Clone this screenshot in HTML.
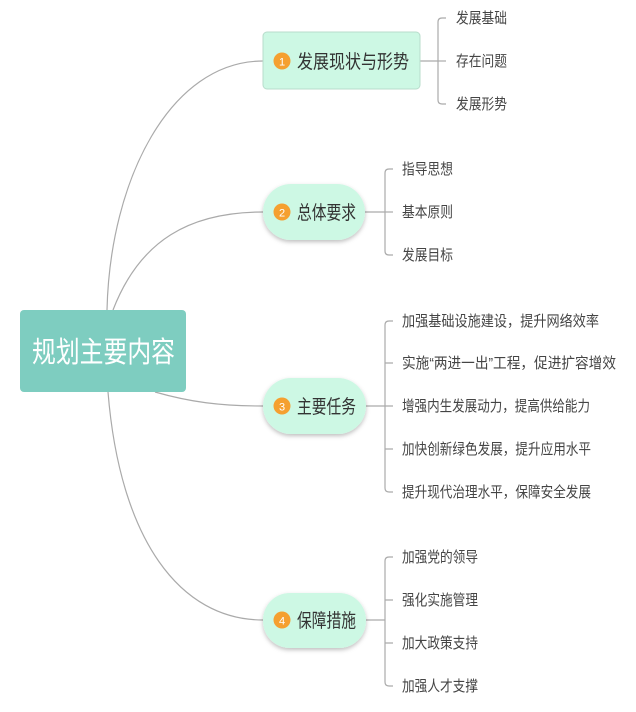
<!DOCTYPE html>
<html><head><meta charset="utf-8"><style>
html,body{margin:0;padding:0;background:#fff;}
svg{display:block;}
text{font-family:"Liberation Sans","Noto Sans CJK SC",sans-serif;}
</style></head><body>
<svg width="636" height="712" viewBox="0 0 636 712" xmlns="http://www.w3.org/2000/svg">
<defs>
<filter id="sh" x="-20%" y="-20%" width="140%" height="150%"><feDropShadow dx="0" dy="2" stdDeviation="2" flood-color="#000" flood-opacity="0.25"/></filter>
</defs>
<g fill="none" stroke="#aaa" stroke-width="1.2">
<path d="M107,310 C110,180 170,61 263,61"/>
<path d="M113,310 C140,240 190,212 263,212"/>
<path d="M155,392 C190,402 220,406 263,406"/>
<path d="M108,392 C120,540 180,620 263,620"/>
<path d="M420,61 H438"/>
<path d="M446,18 H442 Q438,18 438,22 V100 Q438,104 442,104 H446"/>
<path d="M438,61 H446"/>
<path d="M365,212 H385"/>
<path d="M393,169 H389 Q385,169 385,173 V251 Q385,255 389,255 H393"/>
<path d="M385,212 H393"/>
<path d="M366,406 H385"/>
<path d="M393,321 H389 Q385,321 385,325 V488 Q385,492 389,492 H393"/>
<path d="M385,363 H393 M385,406 H393 M385,449 H393"/>
<path d="M366,620 H385"/>
<path d="M393,557 H389 Q385,557 385,561 V682 Q385,686 389,686 H393"/>
<path d="M385,600 H393 M385,643 H393"/>
</g>
<rect x="20" y="310" width="166" height="82" rx="4" fill="#7ecdc0"/>
<text x="32" y="362" font-size="29" fill="#fff" textLength="143" lengthAdjust="spacingAndGlyphs">规划主要内容</text>

<rect x="263" y="32" width="157" height="57" rx="4" fill="#cdf8e4" stroke="#b8dccb" stroke-width="1"/>
<circle cx="282" cy="61" r="8.5" fill="#f5a030"/><text x="282" y="65.5" font-size="11" fill="#fff" text-anchor="middle">1</text>
<text x="297" y="68" font-size="19" fill="#333" textLength="112" lengthAdjust="spacingAndGlyphs">发展现状与形势</text>

<rect x="263" y="184" width="102" height="56" rx="28" fill="#cdf8e4" filter="url(#sh)"/>
<circle cx="282" cy="212" r="8.5" fill="#f5a030"/><text x="282" y="216.5" font-size="11" fill="#fff" text-anchor="middle">2</text>
<text x="297" y="219" font-size="19" fill="#333" textLength="59" lengthAdjust="spacingAndGlyphs">总体要求</text>

<rect x="263" y="378" width="103" height="56" rx="28" fill="#cdf8e4" filter="url(#sh)"/>
<circle cx="282" cy="406" r="8.5" fill="#f5a030"/><text x="282" y="410.5" font-size="11" fill="#fff" text-anchor="middle">3</text>
<text x="297" y="413" font-size="19" fill="#333" textLength="59" lengthAdjust="spacingAndGlyphs">主要任务</text>

<rect x="263" y="593" width="103" height="55" rx="27" fill="#cdf8e4" filter="url(#sh)"/>
<circle cx="282" cy="620" r="8.5" fill="#f5a030"/><text x="282" y="624.5" font-size="11" fill="#fff" text-anchor="middle">4</text>
<text x="297" y="627" font-size="19" fill="#333" textLength="59" lengthAdjust="spacingAndGlyphs">保障措施</text>

<g font-size="15" fill="#444" lengthAdjust="spacingAndGlyphs">
<text x="456" y="23" textLength="51" lengthAdjust="spacingAndGlyphs">发展基础</text>
<text x="456" y="66" textLength="51" lengthAdjust="spacingAndGlyphs">存在问题</text>
<text x="456" y="109" textLength="51" lengthAdjust="spacingAndGlyphs">发展形势</text>
<text x="402" y="174" textLength="51" lengthAdjust="spacingAndGlyphs">指导思想</text>
<text x="402" y="217" textLength="51" lengthAdjust="spacingAndGlyphs">基本原则</text>
<text x="402" y="260" textLength="51" lengthAdjust="spacingAndGlyphs">发展目标</text>
<text x="402" y="326" textLength="197" lengthAdjust="spacingAndGlyphs">加强基础设施建设，提升网络效率</text>
<text x="402" y="368" textLength="214" lengthAdjust="spacingAndGlyphs">实施“两进一出”工程，促进扩容增效</text>
<text x="402" y="411" textLength="188" lengthAdjust="spacingAndGlyphs">增强内生发展动力，提高供给能力</text>
<text x="402" y="454" textLength="189" lengthAdjust="spacingAndGlyphs">加快创新绿色发展，提升应用水平</text>
<text x="402" y="497" textLength="189" lengthAdjust="spacingAndGlyphs">提升现代治理水平，保障安全发展</text>
<text x="402" y="562" textLength="76" lengthAdjust="spacingAndGlyphs">加强党的领导</text>
<text x="402" y="605" textLength="76" lengthAdjust="spacingAndGlyphs">强化实施管理</text>
<text x="402" y="648" textLength="76" lengthAdjust="spacingAndGlyphs">加大政策支持</text>
<text x="402" y="691" textLength="76" lengthAdjust="spacingAndGlyphs">加强人才支撑</text>
</g>
</svg>
</body></html>
